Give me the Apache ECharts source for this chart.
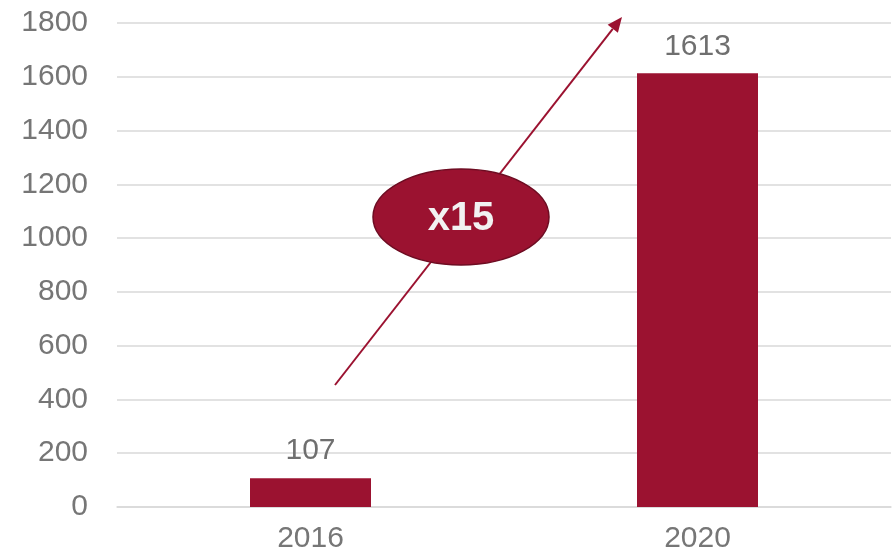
<!DOCTYPE html>
<html lang="en">
<head>
    <meta charset="utf-8">
    <title>2016 vs 2020</title>
    <script src="https://cdn.jsdelivr.net/npm/echarts@6/dist/echarts.min.js"></script>
    <style>
        html, body, #chart { width: 100%; height: 100%; margin: 0; padding: 0; overflow: hidden; background: #ffffff; }
    </style>
</head>
<body>
<div id="chart"></div>
<script type="text/javascript">
    var years = ['2016', '2020'];
    var values = [107, 1613];
    var yTicks = [0, 200, 400, 600, 800, 1000, 1200, 1400, 1600, 1800];
    var growthText = 'x15';

    var red = '#9b1230';
    var font = '"Liberation Sans", Arial, sans-serif';

    var chart = echarts.init(document.getElementById('chart'));

    // arrow from near the 2016 bar up past the 2020 bar
    var a0 = [335, 385], a1 = [622, 17];
    var dx = a1[0] - a0[0], dy = a1[1] - a0[1];
    var len = Math.sqrt(dx * dx + dy * dy);
    var ux = dx / len, uy = dy / len;
    var headLen = 15, headHalf = 6.5;
    var bx = a1[0] - ux * headLen, by = a1[1] - uy * headLen;

    var option = {
        animation: false,
        grid: { left: 117, right: 4, top: 23, bottom: 52 },
        xAxis: {
            type: 'category',
            data: years,
            axisLine: { show: true, lineStyle: { color: '#d9d9d9', width: 1.5 } },
            axisTick: { show: false },
            axisLabel: { color: '#767676', fontSize: 30, fontFamily: font, margin: 17 }
        },
        yAxis: {
            type: 'value',
            min: yTicks[0],
            max: yTicks[yTicks.length - 1],
            interval: 200,
            axisLine: { show: false },
            axisTick: { show: false },
            splitLine: { lineStyle: { color: '#d9d9d9', width: 1.5 } },
            axisLabel: {
                color: '#767676', fontSize: 30, fontFamily: font, margin: 29,
                formatter: function (v) { return String(v); }
            }
        },
        series: [{
            type: 'bar',
            data: values,
            barWidth: 121,
            itemStyle: { color: red },
            label: {
                show: true,
                position: 'top',
                distance: 12,
                color: '#6f6f6f',
                fontSize: 30,
                fontFamily: font
            }
        }],
        graphic: [
            {
                type: 'line',
                z: 10,
                shape: { x1: a0[0], y1: a0[1], x2: bx, y2: by },
                style: { stroke: red, lineWidth: 2 }
            },
            {
                type: 'polygon',
                z: 10,
                shape: {
                    points: [
                        a1,
                        [bx - uy * headHalf, by + ux * headHalf],
                        [bx + uy * headHalf, by - ux * headHalf]
                    ]
                },
                style: { fill: red }
            },
            {
                type: 'ellipse',
                z: 20,
                shape: { cx: 461, cy: 217, rx: 88, ry: 48 },
                style: { fill: red, stroke: '#6e0c22', lineWidth: 1.5 }
            },
            {
                type: 'text',
                z: 21,
                x: 461,
                y: 219,
                style: {
                    text: growthText,
                    fill: '#f2f2f2',
                    font: 'bold 40px ' + font,
                    align: 'center',
                    verticalAlign: 'middle'
                }
            }
        ]
    };

    chart.setOption(option);
</script>
</body>
</html>
